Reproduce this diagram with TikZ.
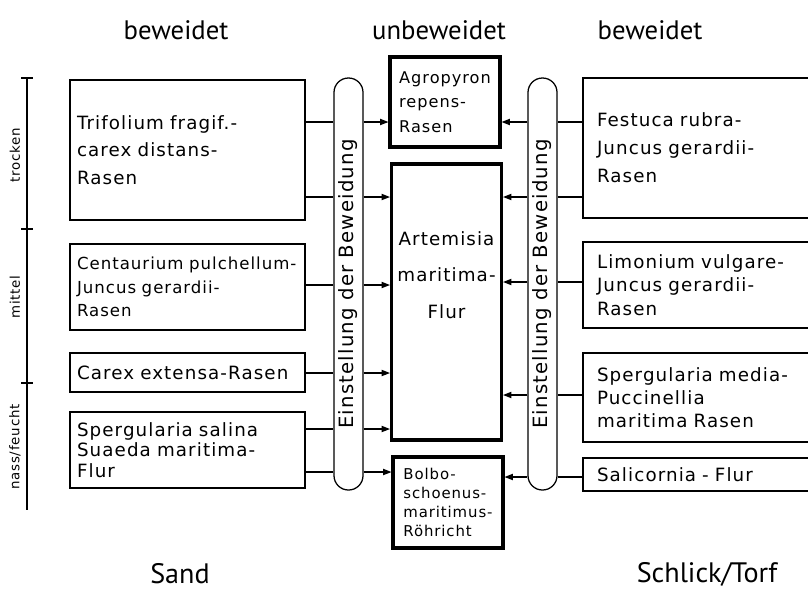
\documentclass[tikz,border=0pt]{standalone}
\usepackage{fontspec}
\setmainfont{DejaVu Sans}[LetterSpace=6]
\newfontfamily\headfont{PT Sans}
\usetikzlibrary{arrows.meta}
\newcommand{\pxl}{0.025cm}
\tikzset{
	conn/.style={line width=0.8pt},
	-tri/.style={-{Triangle[length=6pt,width=4.5pt]}},
	lbox/.style={draw,line width=0.9pt,rectangle,align=left,inner xsep=7*\pxl,text width=221*\pxl,font=\fontsize{13}{16.5}\selectfont},
	rbox/.style={draw,line width=0.9pt,rectangle,align=left,inner xsep=14*\pxl,text width=204*\pxl,font=\fontsize{13}{16.5}\selectfont},
	cbox/.style={draw,line width=2.2pt,rectangle,align=left,minimum width=110*\pxl,font=\fontsize{11.5}{17.5}\selectfont},
	pill/.style={draw,line width=0.9pt,rectangle,rounded corners=0.36cm,minimum width=29*\pxl,minimum height=412*\pxl},
	pilltext/.style={rotate=90,font=\fontsize{14}{16}\selectfont},
	axislab/.style={rotate=90,font=\fontsize{9.5}{11}\selectfont},
	head/.style={font=\headfont\fontsize{19}{22}\selectfont},
	foot/.style={font=\headfont\fontsize{20}{24}\selectfont}
}
\begin{document}
\begin{tikzpicture}[x=0.025cm,y=-0.025cm]
			\useasboundingbox (0,0) rectangle (808,593);
			\clip (0,0) rectangle (808,593);
			% headings
			\node[head] (hleft) at (176,30) {beweidet};
			\node[head] (hmid) at (439,30) {unbeweidet};
			\node[head] (hright) at (650,30) {beweidet};
			\node[foot] (sand) at (180,574) {Sand};
			\node[foot] (schlick) at (707,574) {Schlick/Torf};
			% moisture axis
			\draw[conn] (27,78) -- (27,510);
			\foreach \yy in {78,229,383} \draw[conn] (21,\yy) -- (33,\yy);
			\node[axislab] (trocken) at (15,155) {trocken};
			\node[axislab] (mittel) at (15,297) {mittel};
			\node[axislab] (nass) at (15,447) {nass/feucht};
			% grazed, sand
			\node[lbox,minimum height=140*\pxl,font=\fontsize{13}{19.5}\selectfont] (trif) at (187.5,150) {Trifolium fragif.-\\carex distans-\\Rasen};
			\node[lbox,minimum height=86*\pxl,font=\fontsize{11.8}{16.5}\selectfont] (cent) at (187.5,287) {Centaurium pulchellum-\\Juncus gerardii-\\Rasen};
			\node[lbox,minimum height=39*\pxl] (carex) at (187.5,372.5) {Carex extensa-Rasen};
			\node[lbox,minimum height=76*\pxl,font=\fontsize{13}{14.5}\selectfont] (sperg) at (187.5,450) {Spergularia salina\\Suaeda maritima-\\Flur};
			\node[pill,label={[pilltext]center:Einstellung der Beweidung}] (lpill) at (348.5,284) {};
			% ungrazed
			\node[cbox,minimum height=90*\pxl] (agro) at (445,102) {Agropyron\\repens-\\Rasen};
			\node[cbox,minimum height=276*\pxl,label={[align=center,yshift=0.675cm,font=\fontsize{13}{26}\selectfont]center:Artemisia\\maritima-\\Flur}] (art) at (446.5,302) {};
			\node[cbox,minimum height=91*\pxl,font=\fontsize{10.6}{13.5}\selectfont] (bolbo) at (448,502.5) {Bolbo-\\schoenus-\\maritimus-\\Röhricht};
			% grazed, mud/peat
			\node[pill,label={[pilltext]center:Einstellung der Beweidung}] (rpill) at (542.5,284) {};
			\node[rbox,minimum height=140*\pxl,font=\fontsize{13}{20}\selectfont] (fest) at (699,148) {Festuca rubra-\\Juncus gerardii-\\Rasen};
			\node[rbox,minimum height=86*\pxl] (limo) at (699,285) {Limonium vulgare-\\Juncus gerardii-\\Rasen};
			\node[rbox,minimum height=89*\pxl] (spmed) at (699,397.5) {Spergularia media-\\Puccinellia\\maritima Rasen};
			\node[rbox,minimum height=33*\pxl] (sali) at (699,474.5) {Salicornia - Flur};
			% connectors
			\foreach \yy/\src/\dst in {122/trif/agro,197/trif/art,285/cent/art,373/carex/art,429/sperg/art,472/sperg/bolbo}{
				\draw[conn] (\src.east |- 0,\yy) -- (lpill.west |- 0,\yy);
				\draw[conn,-tri] (lpill.east |- 0,\yy) -- (\dst.west |- 0,\yy);
			}
			\foreach \yy/\src/\dst in {122/fest/agro,197/fest/art,282/limo/art,395/spmed/art,477/sali/bolbo}{
				\draw[conn] (\src.west |- 0,\yy) -- (rpill.east |- 0,\yy);
				\draw[conn,-tri] (rpill.west |- 0,\yy) -- (\dst.east |- 0,\yy);
			}
		\end{tikzpicture}
\end{document}
